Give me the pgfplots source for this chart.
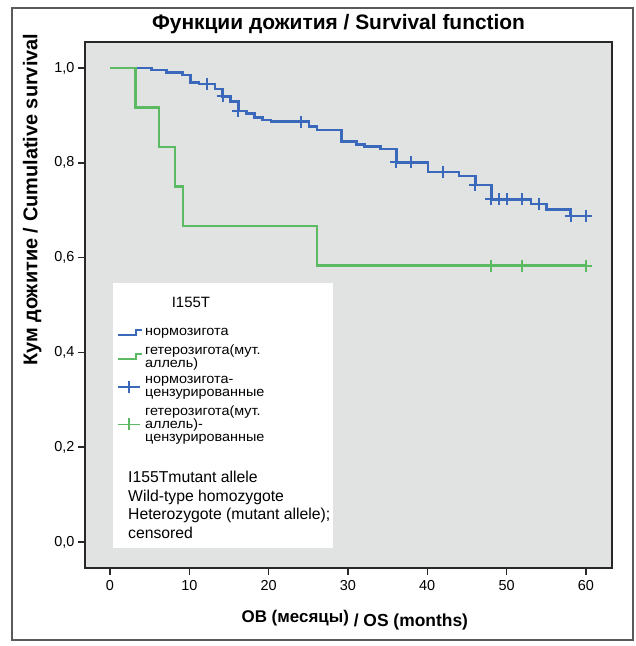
\documentclass[border=0pt]{standalone}
\usepackage{fontspec}
\setmainfont{Liberation Sans}
\newfontfamily\legfont[FakeStretch=1.07]{Liberation Sans}
\usepackage{pgfplots}
\pgfplotsset{compat=1.18}
\definecolor{kmblue}{RGB}{58,104,186}
\definecolor{kmgreen}{RGB}{92,186,98}
\definecolor{bggray}{RGB}{225,226,226}
\definecolor{axisgray}{RGB}{40,40,40}
\definecolor{framegray}{RGB}{90,90,90}
\begin{document}
\begin{tikzpicture}
\begin{axis}[
  scale only axis, width=527bp, height=526bp,
  xmin=-3.15, xmax=63.3, ymin=-0.055, ymax=1.055,
  clip=false,
  axis background/.style={fill=bggray},
  axis line style={axisgray, line width=1.4bp},
  xtick={0,10,20,30,40,50,60}, ytick={0,0.2,0.4,0.6,0.8,1},
  tick align=outside, tick pos=left, major tick length=7bp,
  tick style={axisgray, line width=1.4bp},
  ticklabel style={font=\fontsize{14.5}{16}\selectfont},
  /pgf/number format/assume math mode=true,
  y tick label style={/pgf/number format/fixed, /pgf/number format/fixed zerofill, /pgf/number format/precision=1, /pgf/number format/use comma},
  x tick label style={/pgf/number format/fixed, /pgf/number format/precision=0, yshift=-2bp},
  title={Функции дожития / Survival function},
  title style={at={(0.481,1.023)}, anchor=center, font=\fontsize{21}{24}\selectfont\bfseries},
  ylabel={Кум дожитие / Cumulative survival},
  ylabel style={at={(-0.10,0.70)}, anchor=center, font=\fontsize{20}{22}\selectfont\bfseries},
  xlabel={\fontsize{17}{20}\selectfont\bfseries ОВ (месяцы)\raisebox{-4bp}{\fontsize{17.5}{20}\selectfont\bfseries\ / OS (months)}},
  xlabel style={at={(0.512,-0.099)}, anchor=center},
  legend cell align=left,
  legend style={at={(0.0607,0.460)}, anchor=north west, draw=none, fill=none, inner sep=0pt, row sep=3.5bp,
    cells={align=left, font=\legfont\fontsize{13.5}{13.2}\selectfont, inner sep=0.5bp}},
]
\fill[white] (rel axis cs:0.0531,0.5418) rectangle (rel axis cs:0.4706,0.0380);

\addplot[const plot, kmblue, line width=2.6bp,
  legend image code/.code={\draw[kmblue, line width=2bp] (0bp,-2.5bp) -- (18bp,-2.5bp) -- (18bp,2.5bp) -- (24bp,2.5bp);}]
coordinates {(0,1)(5.26,0.996)(7.15,0.990)(9.16,0.985)(10.17,0.970)(11.22,0.966)(13.24,0.956)(14.2,0.940)(15.2,0.930)(16.2,0.909)(17.2,0.904)(18.2,0.895)(19.2,0.890)(20.3,0.887)(25.1,0.876)(26.1,0.869)(29.2,0.845)(31.1,0.839)(32.1,0.834)(34.1,0.829)(36.1,0.801)(40.1,0.781)(44.0,0.772)(46.1,0.753)(48.1,0.723)(53.1,0.713)(55.0,0.702)(58.1,0.688)(60,0.688)};
\addlegendentry{нормозигота}

\addplot[const plot, kmgreen, line width=2.6bp,
  legend image code/.code={\draw[kmgreen, line width=2bp] (0bp,-2.5bp) -- (18bp,-2.5bp) -- (18bp,2.5bp) -- (24bp,2.5bp);}]
coordinates {(0,1)(3.2,0.9167)(6.2,0.8333)(8.2,0.75)(9.2,0.6667)(26.1,0.5833)(60,0.5833)};
\addlegendentry{гетерозигота(мут.\\аллель)}

\addplot[only marks, mark=+, mark size=6bp, kmblue, mark options={line width=2bp},
  legend image code/.code={\draw[kmblue, line width=1.8bp] (0bp,0bp) -- (22bp,0bp); \draw[kmblue, line width=1.8bp] (11bp,-6bp) -- (11bp,6bp);}]
coordinates {(12.2,0.966)(14.2,0.940)(16.1,0.909)(24.1,0.887)(36.1,0.801)(38.0,0.801)(42.0,0.781)(46.0,0.753)(48.1,0.723)(49.0,0.723)(50.0,0.723)(52.0,0.723)(54.1,0.713)(58.1,0.688)(60,0.688)};
\addlegendentry{нормозигота-\\цензурированные}

\addplot[only marks, mark=+, mark size=6bp, kmgreen, mark options={line width=2bp},
  legend image code/.code={\draw[kmgreen, line width=1.8bp] (0bp,0bp) -- (22bp,0bp); \draw[kmgreen, line width=1.8bp] (11bp,-6bp) -- (11bp,6bp);}]
coordinates {(48.1,0.5833)(52.0,0.5833)(60,0.5833)};
\addlegendentry{гетерозигота(мут.\\аллель)-\\цензурированные}

\node[font=\fontsize{15}{18}\selectfont] at (rel axis cs:0.201,0.5057) {I155T};
\node[anchor=north west, align=left, inner sep=0pt, font=\fontsize{15.8}{18.6}\selectfont] at (rel axis cs:0.0816,0.1844)
  {I155Tmutant allele\\Wild-type homozygote\\Heterozygote (mutant allele);\\censored};

\draw[framegray, line width=1.5bp] (rel axis cs:-0.1385,1.0646) rectangle (rel axis cs:1.0398,-0.1369);
\path (rel axis cs:-0.1613,1.0798) rectangle (rel axis cs:1.0455,-0.1483);
\end{axis}
\end{tikzpicture}
\end{document}
